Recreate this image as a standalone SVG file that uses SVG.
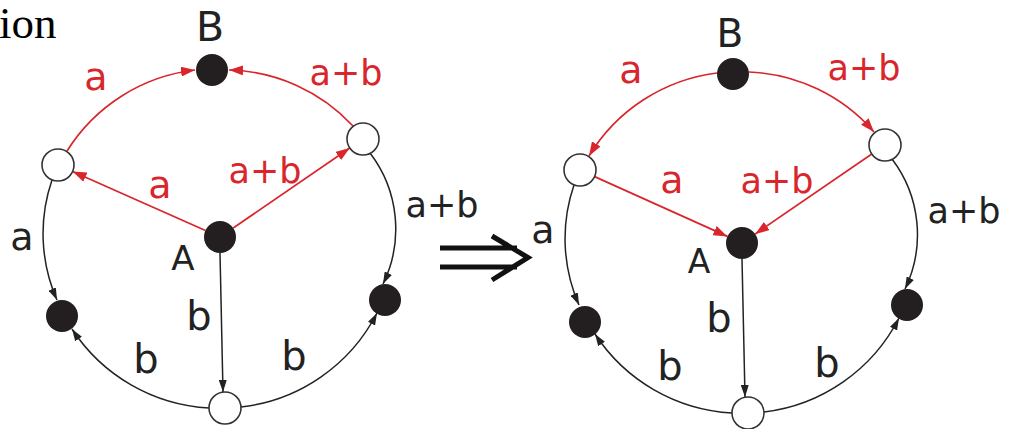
<svg xmlns="http://www.w3.org/2000/svg" width="1010" height="429" viewBox="0 0 1010 429">
<style>
.bg{fill:#ffffff}
.lbl{font-family:"DejaVu Sans","Liberation Sans",sans-serif;text-anchor:middle}
.red{fill:#d8262c}
.blk{fill:#222222}
.fn{fill:#231f20;stroke:none}
.wn{fill:#ffffff;stroke:#333333;stroke-width:1.6}
.er{fill:none;stroke:#d8262c;stroke-width:1.7}
.eb{fill:none;stroke:#222222;stroke-width:1.5}
.ttl{font-family:"Liberation Serif","Times New Roman",serif;font-size:45px;fill:#000000}
</style>
<defs>
<marker id="ar" viewBox="0 0 14 10" refX="14" refY="5" markerWidth="14" markerHeight="10" markerUnits="userSpaceOnUse" orient="auto">
<path d="M0,0 L14,5 L0,10 z" fill="#d8262c"/>
</marker>
<marker id="ab" viewBox="0 0 12 8" refX="12" refY="4" markerWidth="12" markerHeight="8" markerUnits="userSpaceOnUse" orient="auto">
<path d="M0,0 L12,4 L0,8 z" fill="#222222"/>
</marker>
</defs>
<rect class="bg" x="0" y="0" width="1010" height="429"/>
<text class="ttl" x="-1" y="38">ion</text>

<g id="connectors">
<!-- left diagram -->
<path class="er" d="M67,151 A175,175 0 0 1 195,70" marker-end="url(#ar)"/>
<path class="er" d="M353,126 A175,175 0 0 0 229,70" marker-end="url(#ar)"/>
<path class="er" d="M205.4,230.5 L72.6,171.5" marker-end="url(#ar)"/>
<path class="er" d="M233.2,228 L349.8,148" marker-end="url(#ar)"/>
<path class="eb" d="M52,180 A165,165 0 0 0 57,300" marker-end="url(#ab)"/>
<path class="eb" d="M370,153 A125,125 0 0 1 383,284" marker-end="url(#ab)"/>
<path class="eb" d="M220,253 L223,392" marker-end="url(#ab)"/>
<path class="eb" d="M209,408 A175,175 0 0 1 72,329" marker-end="url(#ab)"/>
<path class="eb" d="M241,407 A175,175 0 0 0 377,313" marker-end="url(#ab)"/>
<!-- right diagram -->
<path class="er" d="M717,73 A175,175 0 0 0 589,156" marker-end="url(#ar)"/>
<path class="er" d="M749,72 A175,175 0 0 1 874,132" marker-end="url(#ar)"/>
<path class="er" d="M594.6,176.6 L727.4,236.4" marker-end="url(#ar)"/>
<path class="er" d="M871.8,154 L755.2,234" marker-end="url(#ar)"/>
<path class="eb" d="M574,185 A165,165 0 0 0 579,305" marker-end="url(#ab)"/>
<path class="eb" d="M892,159 A125,125 0 0 1 905,289" marker-end="url(#ab)"/>
<path class="eb" d="M742,259 L745,397" marker-end="url(#ab)"/>
<path class="eb" d="M732,413 A175,175 0 0 1 595,334" marker-end="url(#ab)"/>
<path class="eb" d="M764,412 A175,175 0 0 0 899,318" marker-end="url(#ab)"/>
<!-- implication arrow -->
<path d="M440,248 L517,248 M440,267 L517,267 M492,236 L528,257.5 L492,280" fill="none" stroke="#111111" stroke-width="5"/>
</g>

<!-- left diagram nodes -->
<g id="L_B"><circle class="fn" cx="212" cy="70" r="16"/><text class="lbl blk" x="210" y="41" font-size="41">B</text></g>
<g id="L_top_left"><circle class="wn" cx="58" cy="165" r="16"/></g>
<g id="L_top_right"><circle class="wn" cx="363" cy="139" r="16"/></g>
<g id="L_A"><circle class="fn" cx="220" cy="237" r="16"/><text class="lbl blk" x="183" y="270" font-size="34">A</text></g>
<g id="L_bottom_left"><circle class="fn" cx="62" cy="316" r="16"/></g>
<g id="L_bottom_right"><circle class="fn" cx="385" cy="300" r="16"/></g>
<g id="L_bottom"><circle class="wn" cx="225" cy="408" r="16"/></g>

<!-- right diagram nodes -->
<g id="R_B"><circle class="fn" cx="733" cy="74" r="16"/><text class="lbl blk" x="730" y="47" font-size="39">B</text></g>
<g id="R_top_left"><circle class="wn" cx="580" cy="170" r="16"/></g>
<g id="R_top_right"><circle class="wn" cx="885" cy="145" r="16"/></g>
<g id="R_A"><circle class="fn" cx="742" cy="243" r="16"/><text class="lbl blk" x="699" y="273" font-size="33">A</text></g>
<g id="R_bottom_left"><circle class="fn" cx="585" cy="322" r="16"/></g>
<g id="R_bottom_right"><circle class="fn" cx="907" cy="305" r="16"/></g>
<g id="R_bottom"><circle class="wn" cx="748" cy="413" r="16"/></g>

<g id="labels">
<text class="lbl red" x="96" y="90" font-size="38">a</text>
<text class="lbl red" x="346" y="85" font-size="35">a+b</text>
<text class="lbl red" x="160" y="198" font-size="38">a</text>
<text class="lbl red" x="265" y="183" font-size="35">a+b</text>
<text class="lbl blk" x="22" y="250" font-size="38">a</text>
<text class="lbl blk" x="442" y="217" font-size="35">a+b</text>
<text class="lbl blk" x="199" y="330" font-size="40">b</text>
<text class="lbl blk" x="146" y="373" font-size="40">b</text>
<text class="lbl blk" x="294" y="370" font-size="40">b</text>

<text class="lbl red" x="631" y="83" font-size="38">a</text>
<text class="lbl red" x="864" y="80" font-size="35">a+b</text>
<text class="lbl red" x="672" y="193" font-size="38">a</text>
<text class="lbl red" x="777" y="193" font-size="35">a+b</text>
<text class="lbl blk" x="543" y="243" font-size="38">a</text>
<text class="lbl blk" x="964" y="223" font-size="35">a+b</text>
<text class="lbl blk" x="719" y="332" font-size="40">b</text>
<text class="lbl blk" x="670" y="380" font-size="40">b</text>
<text class="lbl blk" x="827" y="377" font-size="40">b</text>
</g>
</svg>
